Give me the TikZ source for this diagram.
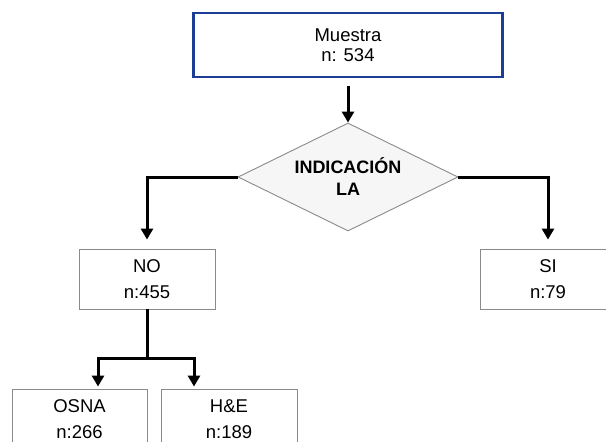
\documentclass[tikz,border=0pt]{standalone}
\usepackage{fontspec}
\setmainfont{Liberation Sans}
\usetikzlibrary{arrows.meta,shapes.geometric}
\definecolor{boxblue}{HTML}{1B3D93}
\definecolor{boxgray}{HTML}{8A8A8A}
\definecolor{diamfill}{HTML}{F6F6F6}

\begin{document}
\begin{tikzpicture}[x=1pt,y=-1pt,
    cbox/.style={draw=boxgray,line width=0.9pt,minimum width=136pt,minimum height=60pt,
      inner sep=0pt,align=center,font=\fontsize{18.5}{26}\selectfont},
    link/.style={line width=3pt,-{Triangle[width=12pt,length=11pt]}}]
        \useasboundingbox (0,0) rectangle (606,442);
        \clip (0,0) rectangle (606,442);
        \node[draw=boxblue,line width=2.4pt,minimum width=309pt,minimum height=64pt,inner sep=0pt,
          align=center,font=\fontsize{18.5}{20}\selectfont] (muestra) at (348,45) {Muestra\\n: 534};
        \node[diamond,draw=boxgray,line width=0.9pt,fill=diamfill,aspect=2.04,inner sep=0pt,
          minimum width=220pt,minimum height=108pt,align=center,
          font=\bfseries\fontsize{18}{22}\selectfont] (ind) at (348,177) {INDICACIÓN\\LA};
        \node[cbox] (no) at (147,279) {NO\\n:455};
        \node[cbox] (si) at (548,279) {SI\\n:79};
        \node[cbox,minimum width=135pt] (osna) at (79.5,419) {OSNA\\n:266};
        \node[cbox] (he) at (229,419) {H\&E\\n:189};
        \coordinate (split) at (147,358);
        \draw[link] (muestra.south) ++(0,8) -- (ind.north);
        \draw[link] (ind.west) -| ([yshift=9pt]no.north);
        \draw[link] (ind.east) -| ([yshift=9pt]si.north);
        \draw[line width=3pt] (no.south) -- (split);
        \draw[link] (split) -| ([xshift=18.5pt,yshift=2pt]osna.north);
        \draw[link] (split) -| ([xshift=-35pt,yshift=2pt]he.north);
      \end{tikzpicture}
\end{document}
